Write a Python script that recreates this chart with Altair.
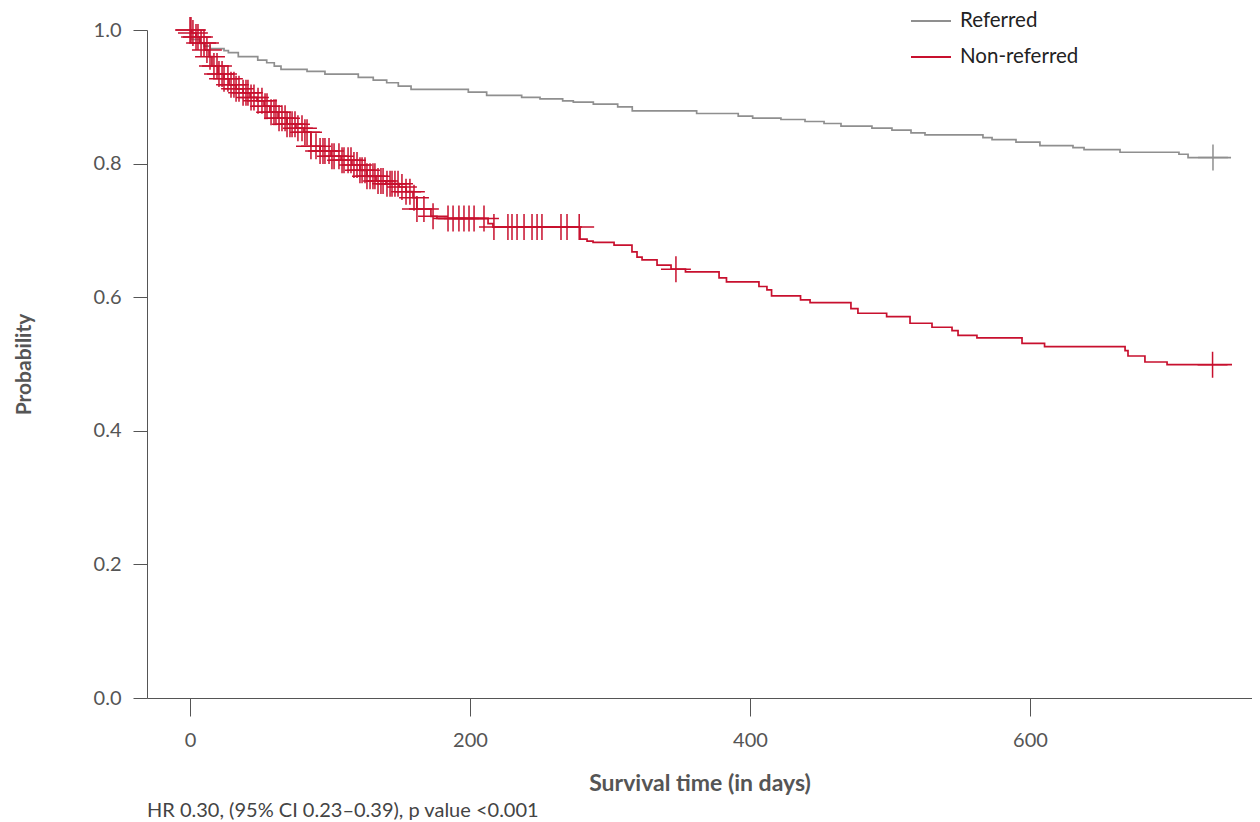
import altair as alt
import pandas as pd

# ---- Kaplan-Meier step data (days, survival probability) ----
ref_days = [0, 0.7, 7.1, 10.0, 14.3, 24.3, 27.4, 34.5, 48.4, 54.8, 60.2, 65.0, 83.6, 96.4,
            120.2, 130.9, 140.5, 148.8, 157.9, 198.8, 211.9, 236.9, 250.0, 266.2, 273.8,
            288.1, 305.5, 315.9, 361.9, 391.6, 401.9, 422.1, 439.3, 452.9, 465.0, 487.1,
            501.4, 515.0, 525.0, 566.4, 572.9, 590.0, 607.1, 630.7, 638.6, 664.3, 706.4,
            712.9, 743.6]
ref_surv = [1.0, 0.986, 0.980, 0.976, 0.972, 0.969, 0.966, 0.960, 0.955, 0.951, 0.946, 0.941,
            0.938, 0.934, 0.929, 0.925, 0.921, 0.916, 0.911, 0.907, 0.902, 0.899, 0.897, 0.894,
            0.892, 0.889, 0.885, 0.879, 0.875, 0.871, 0.868, 0.866, 0.863, 0.860, 0.856, 0.853,
            0.850, 0.846, 0.843, 0.839, 0.836, 0.832, 0.827, 0.824, 0.821, 0.817, 0.814,
            0.809, 0.809]

non_days = [0, 1.4, 4.3, 7.1, 10.7, 13.6, 15.7, 20.0, 24.3, 27.9, 32.9, 37.9, 42.9, 47.9,
            52.9, 57.1, 62.9, 69.3, 75.7, 81.4, 86.4, 92.9, 100.7, 107.9, 115.7, 121.4, 126.4,
            132.9, 140.0, 149.3, 154.3, 159.3, 162.1, 172.1, 176.4, 212.9, 216.4, 278.6, 283.6,
            287.9, 302.9, 315.7, 319.3, 322.9, 333.6, 343.6, 353.9, 377.9, 383.2, 406.4, 412.1,
            415.4, 436.1, 442.9, 472.1, 477.1, 497.6, 514.3, 530.0, 544.3, 548.6, 562.1, 594.3,
            610.4, 667.9, 670.0, 682.1, 697.9, 744.3]
non_surv = [1.0, 0.9955, 0.9895, 0.9805, 0.970, 0.960, 0.946, 0.934, 0.927, 0.918, 0.912,
            0.906, 0.899, 0.894, 0.886, 0.877, 0.868, 0.859, 0.853, 0.847, 0.826, 0.819, 0.811,
            0.805, 0.798, 0.790, 0.781, 0.774, 0.770, 0.765, 0.758, 0.749, 0.732, 0.721, 0.718,
            0.710, 0.705, 0.687, 0.684, 0.682, 0.678, 0.668, 0.660, 0.656, 0.648, 0.642, 0.638,
            0.629, 0.623, 0.616, 0.611, 0.602, 0.596, 0.592, 0.583, 0.576, 0.571, 0.561, 0.555,
            0.550, 0.543, 0.539, 0.531, 0.526, 0.520, 0.512, 0.503, 0.499, 0.499]

# censoring times (days)
ref_censor = [730.7]
non_censor = [0, 0.7, 2.1, 4.3, 5.7, 7.9, 10.0, 12.1, 14.3, 17.1, 19.3, 20.7, 22.9, 24.3, 27.1,
              29.3, 31.4, 32.9, 35.0, 37.9, 40.0, 41.4, 43.6, 45.7, 48.6, 51.4, 53.6, 55.0, 57.9,
              60.0, 61.4, 63.6, 65.7, 67.9, 69.3, 71.4, 72.9, 75.0, 77.1, 80.0, 82.1, 83.6, 86.4,
              90.0, 92.9, 95.0, 96.4, 99.3, 101.4, 102.9, 106.4, 108.6, 110.0, 112.9, 115.0,
              117.1, 119.3, 121.4, 122.9, 125.0, 126.4, 128.6, 130.7, 132.1, 134.3, 136.4, 137.9,
              140.7, 142.9, 144.3, 146.4, 148.6, 151.4, 154.3, 157.1, 160.0, 162.1, 167.1, 173.6,
              184.3, 187.9, 192.1, 195.7, 199.3, 202.9, 210.0, 217.1, 227.1, 230.0, 233.6, 238.6,
              244.3, 247.9, 251.4, 265.0, 269.3, 278.0, 347.1, 730.4]

groups = ["Referred", "Non-referred"]
colors = ["#8f8f8f", "#c8102e"]

x_ticks = [0, 200, 400, 600]
y_ticks = [0.0, 0.2, 0.4, 0.6, 0.8, 1.0]

note = "HR 0.30, (95% CI 0.23\u20130.39), p value <0.001"


def surv_at(days, surv, t):
    val = surv[0]
    for d, s in zip(days, surv):
        if d <= t:
            val = s
        else:
            break
    return val


lines_df = pd.concat([
    pd.DataFrame({"day": ref_days, "surv": ref_surv, "group": "Referred"}),
    pd.DataFrame({"day": non_days, "surv": non_surv, "group": "Non-referred"}),
], ignore_index=True)

ref_cens_df = pd.DataFrame({"day": ref_censor,
                            "surv": [surv_at(ref_days, ref_surv, t) for t in ref_censor]})
non_cens_df = pd.DataFrame({"day": non_censor,
                            "surv": [surv_at(non_days, non_surv, t) for t in non_censor]})

FONT = "Lato"
x_scale = alt.Scale(domain=[-30.71, 758.57], nice=False, zero=False)
y_scale = alt.Scale(domain=[0, 1], nice=False)

x_axis = alt.Axis(values=x_ticks, title="Survival time (in days)", grid=False,
                  labelFont=FONT, labelFontSize=20, labelColor="#555555",
                  titleFont=FONT, titleFontSize=23, titleFontWeight="bold", titleColor="#555555",
                  tickSize=18, tickColor="#555555", domainColor="#555555",
                  labelPadding=14, titlePadding=22)
y_axis = alt.Axis(values=y_ticks, format=".1f", title="Probability", grid=False,
                  labelFont=FONT, labelFontSize=20, labelColor="#555555",
                  titleFont=FONT, titleFontSize=21, titleFontWeight="bold", titleColor="#555555",
                  tickSize=14, tickColor="#555555", domainColor="#555555",
                  labelPadding=12, titlePadding=59)

lines = alt.Chart(lines_df).mark_line(interpolate="step-after", strokeWidth=1.7).encode(
    x=alt.X("day:Q", scale=x_scale, axis=x_axis),
    y=alt.Y("surv:Q", scale=y_scale, axis=y_axis),
    color=alt.Color("group:N", scale=alt.Scale(domain=groups, range=colors),
                    legend=alt.Legend(title=None, orient="none", legendX=763, legendY=-30,
                                      symbolType="stroke", symbolSize=1600, symbolStrokeWidth=2,
                                      labelFont=FONT, labelFontSize=20.5, labelColor="#222222",
                                      labelOffset=8, rowPadding=4, padding=0)),
)

cross = "M-1.15,0L1.15,0M0,-1L0,1"
non_marks = alt.Chart(non_cens_df).mark_point(shape=cross, filled=False, size=676,
                                               strokeWidth=1.5, color=colors[1], opacity=1).encode(
    x=alt.X("day:Q", scale=x_scale), y=alt.Y("surv:Q", scale=y_scale))
ref_marks = alt.Chart(ref_cens_df).mark_point(shape=cross, filled=False, size=676,
                                               strokeWidth=1.5, color=colors[0], opacity=1).encode(
    x=alt.X("day:Q", scale=x_scale), y=alt.Y("surv:Q", scale=y_scale))

chart = alt.layer(lines, ref_marks, non_marks).properties(
    width=1105, height=668,
    autosize=alt.AutoSizeParams(type="none"),
    padding={"left": 139, "top": 22, "right": 0, "bottom": 124},
    title=alt.TitleParams(note, orient="bottom", anchor="start", frame="group", font=FONT,
                          fontSize=20, fontWeight="normal", color="#444444", offset=6),
).configure_view(stroke=None)

chart.save("out.html", embed_options={"renderer": "svg", "actions": False})
